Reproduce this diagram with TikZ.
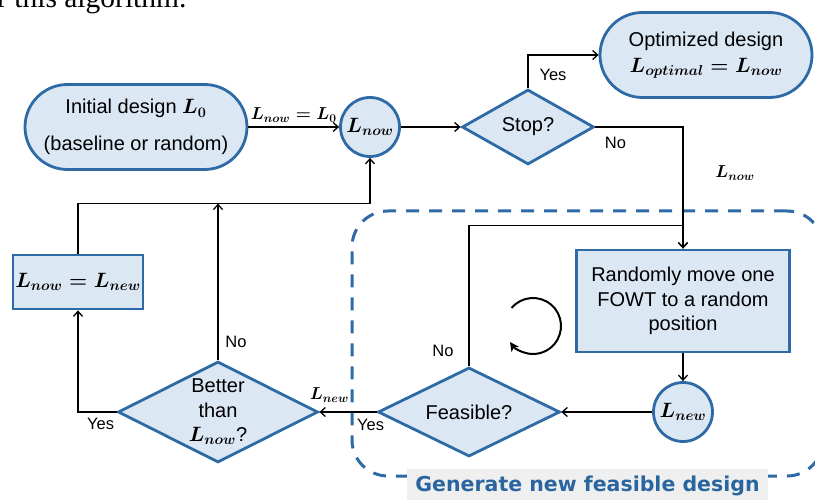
\documentclass[tikz,border=0pt]{standalone}
\usepackage{amsmath}
\usepackage{fontspec}
\setmainfont{Liberation Sans}
\newfontfamily\prosefont{Liberation Serif}
\newfontfamily\groupfont{DejaVu Sans}
\usepackage{tikz}
\usetikzlibrary{
    arrows.meta, positioning, calc, shapes.geometric, shapes.misc
}
\definecolor{stepfill}{HTML}{DCE7F4}
\definecolor{stepline}{HTML}{2E6AA5}
\definecolor{groupline}{HTML}{2E6AA5}
\definecolor{grouptext}{HTML}{2B65A0}
\definecolor{groupbg}{HTML}{EFEFEF}

\begin{document}
\begin{tikzpicture}[
    x=1pt, y=-1pt,
    stepbase/.style={
        fill=stepfill, draw=stepline, line width=2.8pt,
        font=\fontsize{20}{24.5}\selectfont, align=center, inner sep=0pt,
    },
    terminal/.style={stepbase, rounded rectangle, minimum height=85pt},
    process/.style={stepbase, rectangle},
    valnode/.style={stepbase, circle, minimum size=59pt},
    decision/.style={stepbase, diamond, aspect=2},
    lbl/.style={font=\fontsize{16.5}{20}\selectfont, inner sep=0pt},
    mlbl/.style={font=\fontsize{17}{20}\selectfont, inner sep=0pt},
    conn/.style={line width=1.3pt, -{Straight Barb[length=5pt, width=9pt]}},
    looparrow/.style={line width=2pt, -{Stealth[length=9pt, width=9pt, inset=2.5pt]}},
    framebox/.style={
        draw=groupline, line width=3pt, dash pattern=on 13pt off 10pt,
        rounded corners=36pt, rectangle, inner sep=0pt,
    },
    framelabel/.style={
        fill=groupbg, text=grouptext, inner sep=0pt,
        font=\groupfont\bfseries\fontsize{20.5}{22}\selectfont,
        minimum width=361pt, minimum height=34pt,
    },
]
\useasboundingbox (0,0) rectangle (815,500);

% Surrounding text cut at the top
\node[font=\prosefont\fontsize{29.5}{30}\selectfont, anchor=base west, inner sep=0pt]
    (prose) at (-3,8) {r this algorithm.};

% Inner loop frame
\node[framebox, minimum width=471pt, minimum height=265pt] (grp) at (587.5,343.5) {};

% Steps
\node[terminal, minimum width=222pt] (init) at (136,127)
    {Initial design {\boldmath$L_0$}\\[12pt](baseline or random)};
\node[valnode] (now) at (370,127) {{\boldmath$L_{now}$}};
\node[decision, minimum width=132pt, minimum height=75pt] (stop) at (528,127) {Stop?};
\node[terminal, minimum width=212pt] (opt) at (706,55)
    {Optimized design\\[2pt]{\boldmath$L_{optimal}=L_{now}$}};
\node[process, minimum width=213pt, minimum height=102pt] (move) at (683,301)
    {Randomly move one\\FOWT to a random\\position};
\node[valnode] (new) at (683,412) {{\boldmath$L_{new}$}};
\node[decision, minimum width=182pt, minimum height=89pt] (feas) at (469,412) {Feasible?};
\node[decision, minimum width=200pt, minimum height=101pt] (better) at (218,412)
    {Better\\than\\{\boldmath$L_{now}$}?};
\node[process, minimum width=130pt, minimum height=54pt] (upd) at (78,282)
    {{\boldmath$L_{now}=L_{new}$}};

% Connectors
\draw[conn] (init.east) -- node[mlbl, above=4pt] {{\boldmath$L_{now}=L_0$}} (now.west);
\draw[conn] (now.east) -- (stop.west);
\draw[conn] (stop.north) |- (opt.west);
\draw[conn] (stop.east) -| (move.north);
\draw[conn] (feas.north) |- ($(move.north)+(0,-23)$) -- (move.north);
\draw[conn] (move.south) -- (new.north);
\draw[conn] (new.west) -- (feas.east);
\draw[conn] (feas.west) -- (better.east);
\draw[conn] (better.west) -| (upd.south);
\coordinate (ret) at ($(upd.north)+(0,-50)$);
\draw[conn] (upd.north) -- (ret) -| (now.south);
\draw[conn] (better.north) -- (better.north |- ret);

% Connector labels
\node[lbl] at ($(stop.north)+(25,-13)$) {Yes};
\node[lbl] at ($(stop.east)+(20,16)$) {No};
\node[mlbl, font=\fontsize{18}{20}\selectfont] at (735,173) {{\boldmath$L_{now}$}};
\node[lbl] at ($(feas.north)+(-26,-15)$) {No};
\node[lbl] at ($(feas.west)+(-6,13)$) {Yes};
\node[mlbl] at ($(better.east)+(10,-17)$) {{\boldmath$L_{new}$}};
\node[lbl] at ($(better.west)+(-16,12)$) {Yes};
\node[lbl] at ($(better.north)+(18,-18)$) {No};

% Repeat sign
\draw[looparrow] (533,326) ++(-140:28) arc[start angle=-140, end angle=145, radius=28];

% Frame title
\node[framelabel] (grplbl) at ($(grp.south)+(0,8)$) {Generate new feasible design};

\end{tikzpicture}
\end{document}
